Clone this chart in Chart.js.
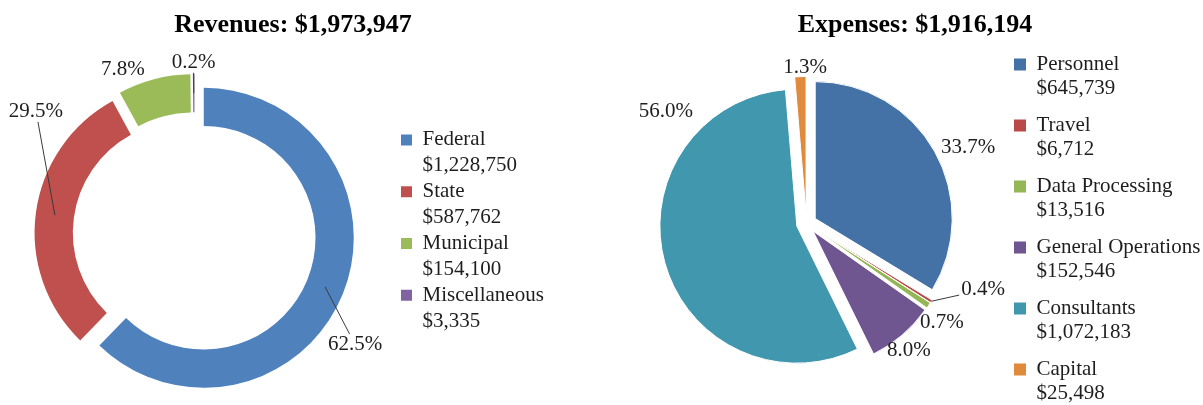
<!DOCTYPE html>
<html>
<head>
<meta charset="utf-8">
<script src="https://cdn.jsdelivr.net/npm/chart.js@4.4.1/dist/chart.umd.min.js"></script>
<style>
html, body { margin: 0; padding: 0; background: #fff; overflow: hidden; }
#stage { position: relative; width: 1203px; height: 405px; overflow: hidden; background: #fff; }
.wrap { position: absolute; top: 0; }
.title { position: absolute; top: 9px; font: bold 26px/30px "Liberation Serif", "Times New Roman", serif; color: #000; white-space: nowrap; transform: translateX(-50%); }
</style>
</head>
<body>
<div id="stage">
  <div class="wrap" style="left:-12px;"><canvas id="rev" width="600" height="468"></canvas></div>
  <div class="wrap" style="left:612px;"><canvas id="exp" width="620" height="447"></canvas></div>
  <div class="title" id="revTitle" style="left:293px;"></div>
  <div class="title" id="expTitle" style="left:915px;"></div>
</div>
<script>
// ---------------- data ----------------
const revenueCategories = ['Federal', 'State', 'Municipal', 'Miscellaneous'];
const revenueAmounts = [1228750, 587762, 154100, 3335];
const revenueShareLabels = ['62.5%', '29.5%', '7.8%', '0.2%'];

const expenseCategories = ['Personnel', 'Travel', 'Data Processing', 'General Operations', 'Consultants', 'Capital'];
const expenseAmounts = [645739, 6712, 13516, 152546, 1072183, 25498];
const expenseShareLabels = ['33.7%', '0.4%', '0.7%', '8.0%', '56.0%', '1.3%'];

// ---------------- styles ----------------
const revenueColors = ['#4F81BD', '#C0504D', '#9BBB59', '#8064A2'];
const expenseColors = ['#4472A7', '#B94A48', '#94B654', '#705691', '#4198AE', '#E08A3C'];
const SERIF = '"Liberation Serif", "Times New Roman", serif';
const TEXT = '#1e1e1e';

const money = v => '$' + v.toLocaleString('en-US');
const sum = a => a.reduce((s, v) => s + v, 0);

document.getElementById('revTitle').textContent = 'Revenues: ' + money(sum(revenueAmounts));
document.getElementById('expTitle').textContent = 'Expenses: ' + money(sum(expenseAmounts));

// exploded slices: move every arc outwards along its mid angle
const explodePlugin = {
  id: 'explode',
  afterDatasetsUpdate(chart, args, opts) {
    const d = opts.distance || 0;
    chart.getSortedVisibleDatasetMetas().forEach(meta => {
      meta.data.forEach(arc => {
        const mid = (arc.startAngle + arc.endAngle) / 2;
        arc.x += Math.cos(mid) * d;
        arc.y += Math.sin(mid) * d;
      });
    });
  }
};

// percentage labels with optional leader lines
const pctLabelPlugin = {
  id: 'pctLabels',
  afterDatasetsDraw(chart, args, o) {
    const ctx = chart.ctx;
    const meta = chart.getDatasetMeta(0);
    ctx.save();
    ctx.font = o.size + 'px ' + SERIF;
    ctx.textAlign = 'center';
    ctx.textBaseline = 'middle';
    meta.data.forEach((arc, i) => {
      const p = arc.getProps(['x', 'y', 'startAngle', 'endAngle', 'innerRadius', 'outerRadius'], true);
      const mid = (p.startAngle + p.endAngle) / 2;
      const a = mid + o.shift[i] * Math.PI / 180;
      const lx = p.x + Math.cos(a) * p.outerRadius * o.radius[i];
      const ly = p.y + Math.sin(a) * p.outerRadius * o.radius[i];
      const text = o.texts[i];
      if (o.leader[i]) {
        const rs = o.leaderFrom === 'mid' ? (p.innerRadius + p.outerRadius) / 2 : p.outerRadius;
        const sx = p.x + Math.cos(mid) * rs, sy = p.y + Math.sin(mid) * rs;
        const hw = ctx.measureText(text).width / 2 + 2, hh = o.size * 0.42 + 2;
        const dx = lx - sx, dy = ly - sy;
        const tx = Math.abs(dx) > 0.001 ? 1 - hw / Math.abs(dx) : -Infinity;
        const ty = Math.abs(dy) > 0.001 ? 1 - hh / Math.abs(dy) : -Infinity;
        const t = Math.max(0, Math.max(tx, ty));
        ctx.beginPath();
        ctx.strokeStyle = '#3a3a3a';
        ctx.lineWidth = 1;
        ctx.moveTo(sx, sy);
        ctx.lineTo(sx + dx * t, sy + dy * t);
        ctx.stroke();
      }
      ctx.fillStyle = TEXT;
      ctx.fillText(text, lx, ly);
    });
    ctx.restore();
  }
};

function legendItems(names, amounts, colors) {
  return () => names.map((n, i) => ({
    text: [n, money(amounts[i])],
    fillStyle: colors[i],
    strokeStyle: colors[i],
    lineWidth: 0,
    hidden: false,
    index: i,
    fontColor: TEXT
  }));
}

// put the legend's left edge at a given canvas x, keeping its natural width
function placeLegend(chart, legendLeft) {
  const lw = chart.legend.width;
  chart.options.layout.padding.right = chart.width - legendLeft - lw;
  chart.update();
}

// ---------------- Revenues (doughnut) ----------------
const revChart = new Chart(document.getElementById('rev'), {
  type: 'doughnut',
  data: {
    labels: revenueCategories,
    datasets: [{
      data: revenueAmounts,
      backgroundColor: revenueColors,
      borderWidth: 0
    }]
  },
  options: {
    responsive: false,
    animation: false,
    events: [],
    radius: 150,
    cutout: '74.5%',
    layout: { padding: { left: 0, top: 0, right: 20, bottom: 0 } },
    plugins: {
      tooltip: { enabled: false },
      title: { display: false },
      explode: { distance: 10 },
      pctLabels: {
        texts: revenueShareLabels,
        size: 21,
        radius: [1.236, 1.28, 1.133, 1.08],
        shift: [13.2, 31.6, -9.3, 0],
        leader: [true, true, false, true],
        leaderFrom: 'mid'
      },
      legend: {
        position: 'right',
        align: 'start',
        title: { display: true, text: ' ', padding: { top: 119.4, bottom: 0 }, font: { size: 10, lineHeight: '10px' } },
        labels: {
          boxWidth: 11,
          boxHeight: 11,
          padding: 0,
          color: TEXT,
          font: { family: SERIF, size: 21, lineHeight: '25.9px' },
          generateLabels: legendItems(revenueCategories, revenueAmounts, revenueColors)
        }
      }
    }
  },
  plugins: [explodePlugin, pctLabelPlugin]
});
placeLegend(revChart, 413);

// ---------------- Expenses (pie) ----------------
const expChart = new Chart(document.getElementById('exp'), {
  type: 'pie',
  data: {
    labels: expenseCategories,
    datasets: [{
      data: expenseAmounts,
      backgroundColor: expenseColors,
      borderColor: '#ffffff',
      borderWidth: 1
    }]
  },
  options: {
    responsive: false,
    animation: false,
    events: [],
    radius: 137,
    layout: { padding: { left: 0, top: 0, right: 20, bottom: 0 } },
    plugins: {
      tooltip: { enabled: false },
      title: { display: false },
      explode: { distance: 10 },
      pctLabels: {
        texts: expenseShareLabels,
        size: 21,
        radius: [1.229, 1.305, 1.153, 1.12, 1.269, 1.063],
        shift: [4.5, -12, 2.6, 1.9, 56.6, 2],
        leader: [false, true, false, false, false, false],
        leaderFrom: 'outer'
      },
      legend: {
        position: 'right',
        align: 'start',
        title: { display: true, text: ' ', padding: { top: 31.1, bottom: 0 }, font: { size: 10, lineHeight: '10px' } },
        labels: {
          boxWidth: 12,
          boxHeight: 12,
          padding: 13,
          color: TEXT,
          font: { family: SERIF, size: 21, lineHeight: '24px' },
          generateLabels: legendItems(expenseCategories, expenseAmounts, expenseColors)
        }
      }
    }
  },
  plugins: [explodePlugin, pctLabelPlugin]
});
placeLegend(expChart, 389);
</script>
</body>
</html>
